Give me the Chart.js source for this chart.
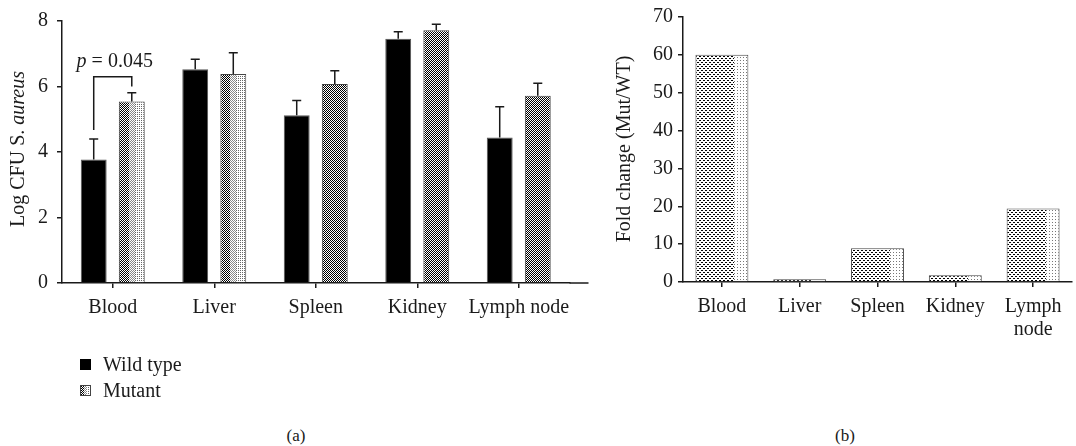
<!DOCTYPE html>
<html>
<head>
<meta charset="utf-8">
<script src="https://cdn.jsdelivr.net/npm/chart.js@4"></script>
<style>
  body { margin: 0; background: #fff; width: 1076px; height: 446px; position: relative; overflow: hidden;
         font-family: "Liberation Serif", "DejaVu Serif", serif; color: #1a1a1a; }
  #wrapA { position: absolute; left: 0; top: 0; }
  #wrapB { position: absolute; left: 600px; top: 0; }
  .legend { position: absolute; left: 80px; top: 351px; font-size: 20px; }
  .item { display: flex; align-items: center; height: 26px; }
  .item canvas { width: 11px; height: 11px; margin-right: 12px; }
  .panel { position: absolute; top: 426px; font-size: 17px; transform: translateX(-50%); }
</style>
</head>
<body>
<div id="wrapA"><canvas id="cfuChart" width="600" height="340"></canvas></div>
<div id="wrapB"><canvas id="foldChart" width="476" height="350"></canvas></div>
<div class="legend">
  <div class="item"><canvas id="swWild" width="11" height="11"></canvas>Wild type</div>
  <div class="item"><canvas id="swMut" width="11" height="11"></canvas>Mutant</div>
</div>
<div class="panel" style="left:296px">(a)</div>
<div class="panel" style="left:845px">(b)</div>

<script>
// panel (a): log CFU per organ
const organs = ['Blood', 'Liver', 'Spleen', 'Kidney', 'Lymph node'];
const wildType = [3.77, 6.53, 5.12, 7.46, 4.44];
const wildTypeErr = [4.40, 6.83, 5.57, 7.67, 5.38];   // top of error bar
const mutant = [5.54, 6.38, 6.08, 7.72, 5.72];
const mutantErr = [5.81, 7.03, 6.48, 7.90, 6.10];
const cfuTicks = [0, 2, 4, 6, 8];

// p-value bracket over Blood
const pText = '0.045';
const bracketTop = 6.3, bracketLeftFoot = 4.67, bracketRightFoot = 6.0;

// panel (b): fold change Mut/WT
const foldLabels = ['Blood', 'Liver', 'Spleen', 'Kidney', ['Lymph', 'node']];
const foldChange = [60, 0.7, 8.9, 1.8, 19.4];
const foldTicks = [0, 10, 20, 30, 40, 50, 60, 70];

// which mutant bars have the checker fading to dots
const mutantFade = [true, true, false, false, false];

const FONT = '"Liberation Serif", "DejaVu Serif", serif';
const INK = '#1a1a1a';
const FS = 20;

function patternCanvas(w, h, pixel) {
    const c = document.createElement('canvas');
    c.width = w; c.height = h;
    const g = c.getContext('2d');
    g.fillStyle = '#fff';
    g.fillRect(0, 0, w, h);
    for (let x = 0; x < w; x++) {
        for (let y = 0; y < h; y++) {
            const col = pixel(x, y, x / w);
            if (col) { g.fillStyle = col; g.fillRect(x, y, 1, 1); }
        }
    }
    return c;
}

const denseChecker = (x, y) => (x + y) % 2 === 0 ? '#000' : null;
const fadeChecker = (x, y, t) => {
    if (t < 0.35) return (x + y) % 2 === 0 ? '#000' : null;
    if (t < 0.6) return (x + y) % 2 === 0 ? '#8a8a8a' : null;
    return (x % 2 === 0 && y % 2 === 0) ? '#666' : null;
};
const dotFade = (x, y, t) => {
    const row = Math.floor(y / 2) % 2;
    if (t < 0.72) return ((x + row * 2) % 4 < 2 && y % 2 === 0) ? '#000' : null;
    return (x % 3 === 0 && y % 3 === 0) ? '#777' : null;
};

// pattern aligned to the bar's own left edge, worked out from the category scale
function barPattern(ctx, nStack, catPct, barPct, pixelFn) {
    const chart = ctx.chart;
    const x = chart.scales.x;
    if (!x || !x.width) return '#000';
    const n = chart.data.labels.length;
    const size = (x.width / n) * catPct;
    const chunk = size / nStack;
    const center = x.getPixelForValue(ctx.dataIndex) - size / 2 + chunk * ctx.datasetIndex + chunk / 2;
    const w = chunk * barPct;
    const left = center - w / 2;
    const pat = chart.ctx.createPattern(patternCanvas(Math.max(2, Math.round(w)), 12, pixelFn), 'repeat');
    pat.setTransform(new DOMMatrix([1, 0, 0, 1, Math.round(left), 0]));
    return pat;
}

function drawRotatedTitle(ctx, cx, cy, parts) {
    ctx.save();
    ctx.translate(cx, cy);
    ctx.rotate(-Math.PI / 2);
    ctx.fillStyle = INK;
    ctx.textBaseline = 'middle';
    let total = 0;
    parts.forEach(p => { ctx.font = p.font; total += ctx.measureText(p.text).width; });
    let pos = -total / 2;
    parts.forEach(p => {
        ctx.font = p.font;
        ctx.fillText(p.text, pos, 0);
        pos += ctx.measureText(p.text).width;
    });
    ctx.restore();
}

function axisOpts(fixSize) {
    return {
        grid: { drawOnChartArea: false, drawTicks: true, tickLength: 5, color: INK, lineWidth: 1.5, offset: false },
        border: { display: true, color: INK, width: 1.5 },
        afterFit: fixSize
    };
}

const CAT_A = 0.75, BAR_A = 0.68;

const cfuPlugin = {
    id: 'cfuExtras',
    afterDatasetsDraw(chart) {
        const { ctx, scales: { y }, chartArea } = chart;
        ctx.save();
        ctx.strokeStyle = INK;
        ctx.lineWidth = 1.5;
        // x axis line runs a little past the last group
        ctx.beginPath();
        ctx.moveTo(chartArea.right, chartArea.bottom);
        ctx.lineTo(chartArea.right + 19, chartArea.bottom);
        ctx.stroke();
        // upper error bars
        [wildTypeErr, mutantErr].forEach((tops, d) => {
            chart.getDatasetMeta(d).data.forEach((bar, i) => {
                const yTop = y.getPixelForValue(tops[i]);
                ctx.beginPath();
                ctx.moveTo(bar.x, bar.y);
                ctx.lineTo(bar.x, yTop);
                ctx.moveTo(bar.x - 4.5, yTop);
                ctx.lineTo(bar.x + 4.5, yTop);
                ctx.stroke();
            });
        });
        // significance bracket
        const xl = chart.getDatasetMeta(0).data[0].x;
        const xr = chart.getDatasetMeta(1).data[0].x;
        const yt = y.getPixelForValue(bracketTop);
        ctx.beginPath();
        ctx.moveTo(xl, y.getPixelForValue(bracketLeftFoot));
        ctx.lineTo(xl, yt);
        ctx.lineTo(xr, yt);
        ctx.lineTo(xr, y.getPixelForValue(bracketRightFoot));
        ctx.stroke();
        // p = 0.045
        const pFont = 'italic ' + FS + 'px ' + FONT, rest = ' = ' + pText, rFont = FS + 'px ' + FONT;
        ctx.font = pFont; const w1 = ctx.measureText('p').width;
        ctx.font = rFont; const w2 = ctx.measureText(rest).width;
        let tx = (xl + xr) / 2 + 2 - (w1 + w2) / 2;
        ctx.fillStyle = INK;
        ctx.textBaseline = 'alphabetic';
        ctx.font = pFont; ctx.fillText('p', tx, yt - 10);
        ctx.font = rFont; ctx.fillText(rest, tx + w1, yt - 10);
        ctx.restore();
        drawRotatedTitle(ctx, 19, 149, [
            { text: 'Log CFU S. ', font: FS + 'px ' + FONT },
            { text: 'aureus', font: 'italic ' + FS + 'px ' + FONT }
        ]);
    }
};

new Chart(document.getElementById('cfuChart'), {
    type: 'bar',
    data: {
        labels: organs,
        datasets: [{
            label: 'Wild type',
            data: wildType,
            backgroundColor: '#000',
            borderColor: '#555',
            borderWidth: 1
        }, {
            label: 'Mutant',
            data: mutant,
            backgroundColor: ctx => barPattern(ctx, 2, CAT_A, BAR_A, mutantFade[ctx.dataIndex] ? fadeChecker : denseChecker),
            borderColor: '#444',
            borderWidth: 1
        }]
    },
    options: {
        responsive: false,
        animation: false,
        events: [],
        categoryPercentage: CAT_A,
        barPercentage: BAR_A,
        layout: { padding: { left: 0, top: 16, right: 30.5, bottom: 20 } },
        plugins: { legend: { display: false }, tooltip: { enabled: false } },
        scales: {
            x: Object.assign(axisOpts(s => { s.height = 37; }), {
                ticks: { color: INK, font: { family: FONT, size: FS }, padding: 8, maxRotation: 0, autoSkip: false }
            }),
            y: Object.assign(axisOpts(s => { s.width = 62; }), {
                min: 0, max: 8,
                afterBuildTicks: s => { s.ticks = cfuTicks.map(v => ({ value: v })); },
                ticks: { color: INK, font: { family: FONT, size: FS }, padding: 9 }
            })
        }
    },
    plugins: [cfuPlugin]
});

const foldPlugin = {
    id: 'foldExtras',
    afterDraw(chart) {
        drawRotatedTitle(chart.ctx, 25, 149, [{ text: 'Fold change (Mut/WT)', font: FS + 'px ' + FONT }]);
    }
};

new Chart(document.getElementById('foldChart'), {
    type: 'bar',
    data: {
        labels: foldLabels,
        datasets: [{
            label: 'Fold change',
            data: foldChange,
            backgroundColor: ctx => barPattern(ctx, 1, 1, 0.68, dotFade),
            borderColor: '#444',
            borderWidth: 1
        }]
    },
    options: {
        responsive: false,
        animation: false,
        events: [],
        categoryPercentage: 1,
        barPercentage: 0.68,
        layout: { padding: { left: 0, top: 16, right: 4, bottom: 6 } },
        plugins: { legend: { display: false }, tooltip: { enabled: false } },
        scales: {
            x: Object.assign(axisOpts(s => { s.height = 62; }), {
                ticks: {
                    color: INK, font: { family: FONT, size: FS, lineHeight: 1.15 }, padding: 8,
                    maxRotation: 0, autoSkip: false
                }
            }),
            y: Object.assign(axisOpts(s => { s.width = 83; }), {
                min: 0, max: 70,
                afterBuildTicks: s => { s.ticks = foldTicks.map(v => ({ value: v })); },
                ticks: { color: INK, font: { family: FONT, size: FS }, padding: 5 }
            })
        }
    },
    plugins: [foldPlugin]
});

// legend swatches
(function () {
    const gw = document.getElementById('swWild').getContext('2d');
    gw.fillStyle = '#000'; gw.fillRect(0, 0, 11, 11);
    const gm = document.getElementById('swMut').getContext('2d');
    gm.drawImage(patternCanvas(11, 11, fadeChecker), 0, 0);
    gm.strokeStyle = '#444'; gm.lineWidth = 1; gm.strokeRect(0.5, 0.5, 10, 10);
})();
</script>
</body>
</html>
